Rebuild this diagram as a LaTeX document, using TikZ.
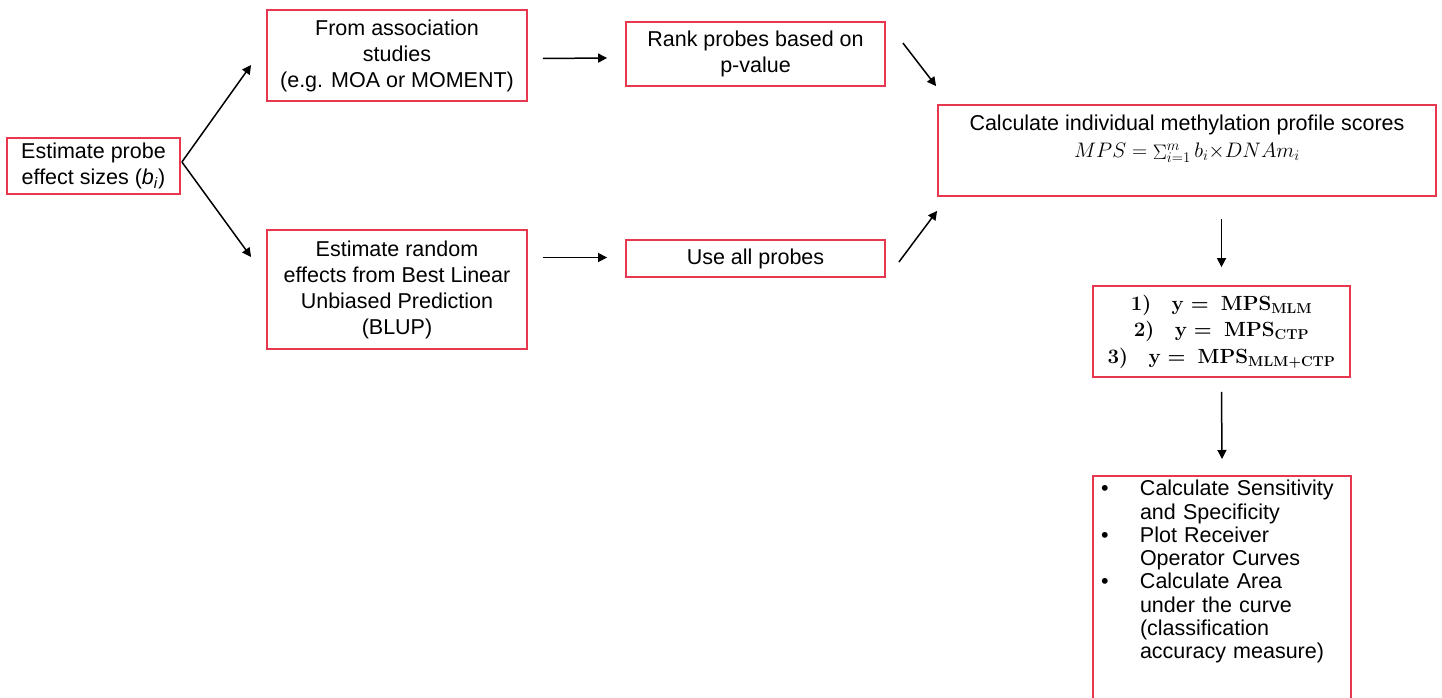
\RequirePackage{fix-cm}
\documentclass[tikz,border=0pt]{standalone}
\usepackage{fontspec}
\setmainfont{Liberation Sans}
\usetikzlibrary{arrows.meta,calc}
\definecolor{boxred}{HTML}{E8384F}
\begin{document}
\begin{tikzpicture}[x=1pt,y=-1pt,
  boxline/.style={draw=boxred,line width=1.8pt},
  box/.style={boxline,align=center,inner sep=0pt,text=black,font=\fontsize{21.5}{26}\selectfont},
  arr/.style={-{Triangle[length=9pt,width=9pt]},line width=1.5pt,black}]
\useasboundingbox (0,0) rectangle (1442,698);
\fill[white] (0,0) rectangle (1442,698);
\clip (0,0) rectangle (1442,698);

\node[box,minimum width=173pt,minimum height=56pt] (est) at (93.5,166)
  {Estimate probe\\effect sizes (\textit{b}\textsubscript{\textit{i}})};
\node[box,minimum width=260pt,minimum height=91pt] (top) at (397,55.5)
  {From association\\studies\\(e.g. MOA or MOMENT)};
\node[box,minimum width=260pt,minimum height=119pt] (bot) at (397,289.5)
  {Estimate random\\effects from Best Linear\\Unbiased Prediction\\(BLUP)};
\node[box,minimum width=259pt,minimum height=64pt] (rank) at (755.5,54)
  {Rank probes based on\\p-value};
\node[box,minimum width=259pt,minimum height=37pt] (useall) at (755.5,258.5)
  {Use all probes};
\node[box,minimum width=498pt,minimum height=91pt] (mps) at (1187,150.5)
  {Calculate individual methylation profile scores\\[1pt]
   {\fontsize{21}{24}\selectfont $MPS=\mathop{\Sigma}\nolimits_{i=1}^{m}b_i{\times}DNAm_i$}\\[2pt]\mbox{}};
\node[box,minimum width=257pt,minimum height=91pt,font=\fontsize{20.5}{26.5}\selectfont\boldmath] (eq) at (1221.5,331.5)
  {$\mathbf{1)\quad y =\ MPS_{MLM}}$\\
   $\mathbf{2)\quad y =\ MPS_{CTP}}$\\
   $\mathbf{3)\quad y =\ MPS_{MLM+CTP}}$};
\node[anchor=north,inner sep=0pt,minimum width=258pt,text width=250pt,align=left,
      font=\fontsize{21.5}{23.3}\selectfont] (eval) at (1222,480)
  {\makebox[43pt][l]{\hspace{4pt}•}Calculate Sensitivity\\
   \hspace*{43pt}and Specificity\\
   \makebox[43pt][l]{\hspace{4pt}•}Plot Receiver\\
   \hspace*{43pt}Operator Curves\\
   \makebox[43pt][l]{\hspace{4pt}•}Calculate Area\\
   \hspace*{43pt}under the curve\\
   \hspace*{43pt}(classification\\
   \hspace*{43pt}accuracy measure)};
\draw[boxline] ($(eval.south west)+(0,60)$) -- ($(eval.north west)+(0,-4)$)
  -- ($(eval.north east)+(0,-4)$) -- ($(eval.south east)+(0,60)$);

\draw[arr] ($(est.east)+(1,-4)$) -- ($(top.west)+(-15,9.5)$);
\draw[arr] ($(est.east)+(1,-4)$) -- ($(bot.west)+(-15,-32.5)$);
\draw[arr] ($(top.east)+(15,3)$) -- ($(rank.west)+(-18,4)$);
\draw[arr] ($(bot.east)+(15,-32)$) -- ($(useall.west)+(-18,-1)$);
\draw[arr] ($(rank.east)+(17,-11)$) -- ($(mps.north west)+(-1,-18)$);
\draw[arr] ($(useall.east)+(13,3.5)$) -- ($(mps.south west)+(0,14)$);
\draw[arr] ($(mps.south -| eq.north)+(0,22)$) -- ($(eq.north)+(0,-18)$);
\draw[arr] ($(eq.south)+(0,14)$) -- ($(eval.north)+(0,-21)$);
\end{tikzpicture}
\end{document}
